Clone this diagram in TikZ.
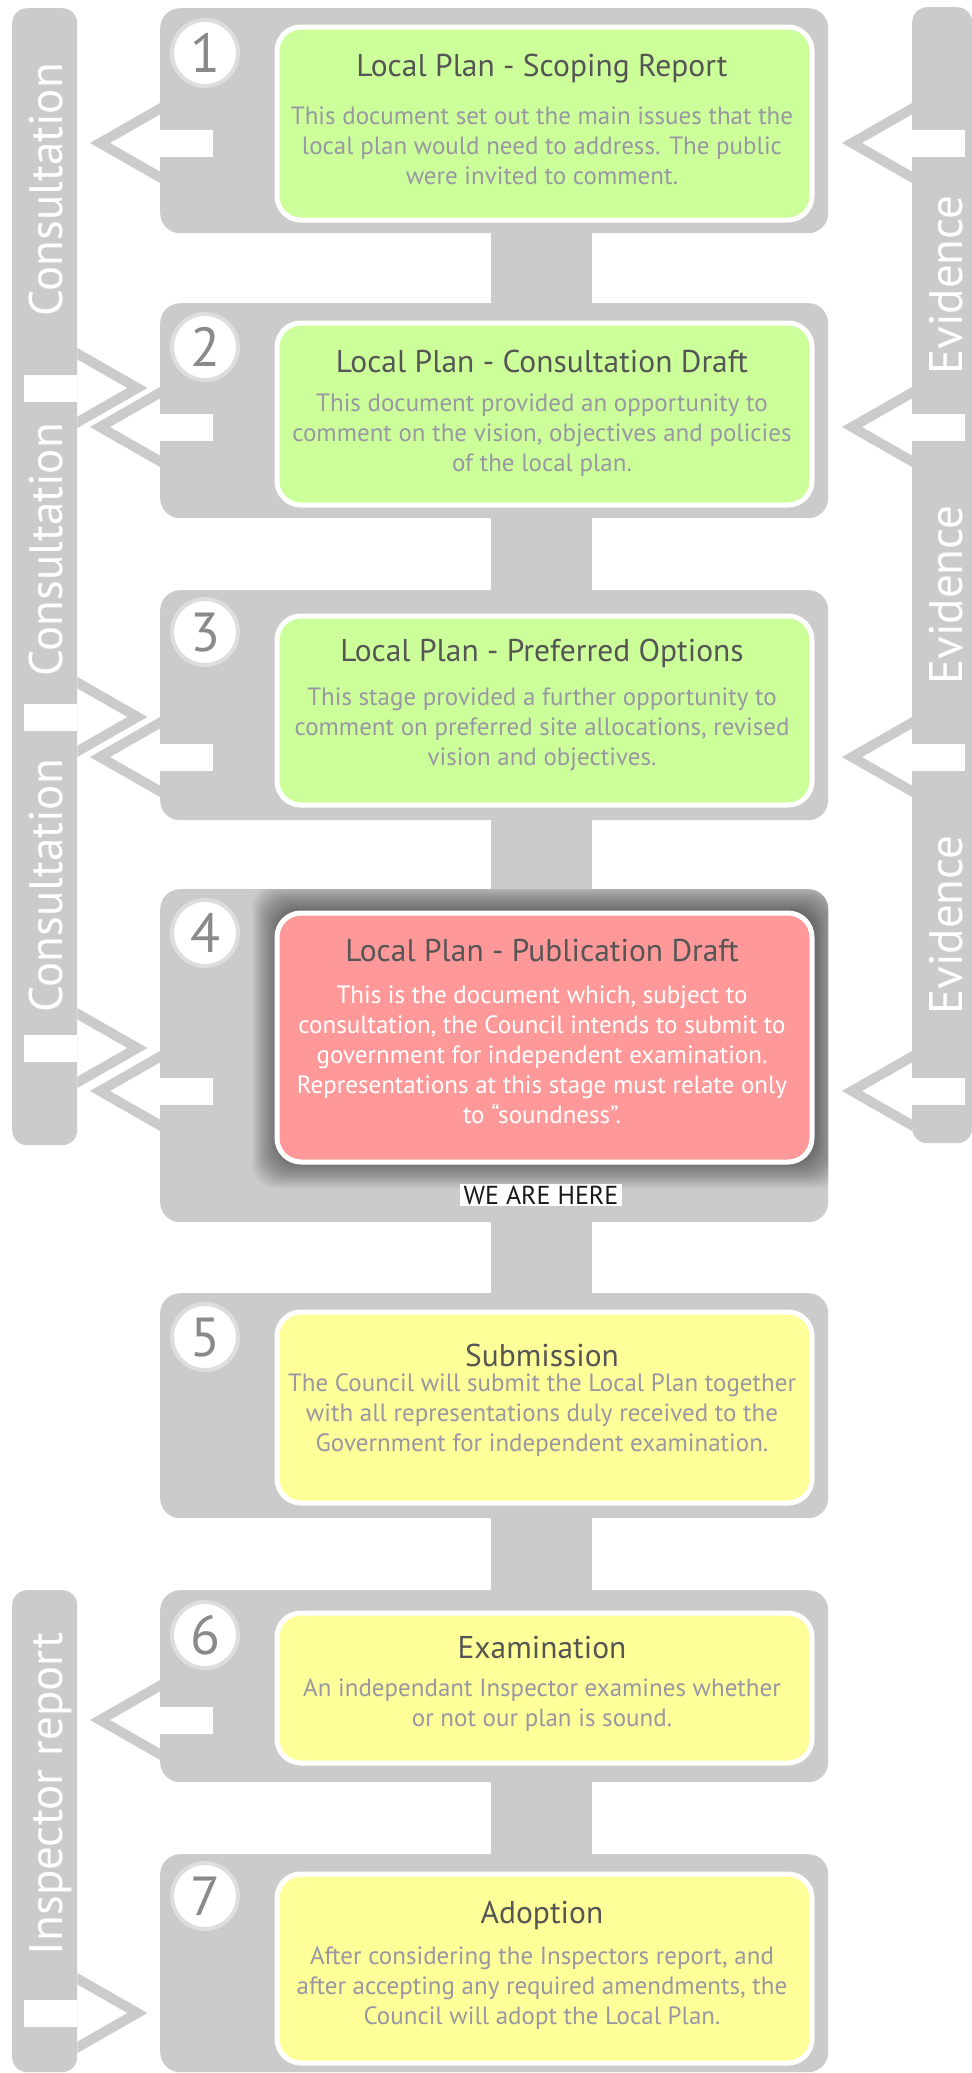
\documentclass[tikz,border=0pt]{standalone}
\usepackage{fontspec}
\setmainfont{PT Sans}
\usetikzlibrary{calc}
\definecolor{boxgray}{HTML}{CBCBCB}
\definecolor{ringgray}{HTML}{DDDDDD}
\definecolor{numgray}{HTML}{8A8A8A}
\definecolor{cgreen}{HTML}{CCFF99}
\definecolor{cyellow}{HTML}{FFFF99}
\definecolor{cpink}{HTML}{FF9999}
\definecolor{titlegray}{HTML}{555555}
\definecolor{bodygray}{HTML}{9897A3}
\begin{document}
\begin{tikzpicture}[x=1pt,y=-1pt,
  stage/.style={fill=boxgray, rounded corners=20pt, inner sep=0pt, minimum width=668pt, anchor=north west},
  card/.style={draw=white, line width=5pt, rounded corners=24pt, inner sep=0pt, minimum width=535pt, anchor=north west},
  numcircle/.style={circle, fill=white, draw=ringgray, line width=4pt, minimum size=66pt, inner sep=0pt},
  numtext/.style={anchor=base, text=numgray, inner sep=0pt, font=\fontsize{55}{60}\selectfont},
  titletext/.style={text=titlegray, inner sep=0pt, font=\fontsize{31.5}{34}\selectfont},
  bodytext/.style={text=bodygray, inner sep=0pt, align=center, font=\fontsize{25}{30}\selectfont},
  bar/.style={fill=boxgray, rounded corners=15pt, inner sep=0pt, anchor=north west},
  bartext/.style={text=white, rotate=90, anchor=base, inner sep=0pt, font=\fontsize{47}{50}\selectfont},
  chev/.pic={
    \fill[boxgray] (0,-40) -- (-70,0) -- (0,40) -- (0,28.6) -- (-50,0) -- (0,-28.6) -- cycle;
    \fill[white] (0,-13.5) rectangle (53,13.5);
  }
]
\useasboundingbox (0,0) rectangle (972,2073);
\fill[white] (0,0) rectangle (972,2073);

% stage boxes
\node[stage, minimum height=225pt] (s1) at (160,8) {};
\node[stage, minimum height=215pt] (s2) at (160,303) {};
\node[stage, minimum height=230pt] (s3) at (160,590) {};
\node[stage, minimum height=333pt] (s4) at (160,889) {};
\node[stage, minimum height=225pt] (s5) at (160,1293) {};
\node[stage, minimum height=192pt] (s6) at (160,1590) {};
\node[stage, minimum height=218pt] (s7) at (160,1854) {};

% stem joining the stages
\fill[boxgray] ($(s1.south west)+(331,-5)$) rectangle ($(s7.north west)+(432,5)$);

% shadow of the current stage
\begin{scope}
  \clip[rounded corners=20pt] (s4.north west) rectangle (s4.south east);
  \foreach \k in {1,...,28} {
    \fill[black, opacity=0.02, rounded corners=24pt]
      ($(274.5,910.5)+(5-\k,1-\k)$) rectangle ($(809.5,1159.5)+(5+\k,1+\k)$);
  }
\end{scope}

% cards
\node[card, fill=cgreen, minimum height=193pt] (c1) at (274.5,24.5) {};
\node[card, fill=cgreen, minimum height=182pt] (c2) at (274.5,320.5) {};
\node[card, fill=cgreen, minimum height=189pt] (c3) at (274.5,613.5) {};
\node[card, fill=cpink, minimum height=249pt] (c4) at (274.5,910.5) {};
\node[card, fill=cyellow, minimum height=191pt] (c5) at (274.5,1309.5) {};
\node[card, fill=cyellow, minimum height=150pt] (c6) at (274.5,1610.5) {};
\node[card, fill=cyellow, minimum height=189pt] (c7) at (274.5,1871.5) {};

% titles and texts
\node[titletext] (t1) at (542,69) {Local Plan - Scoping Report};
\node[bodytext] (b1) at (542,146) {This document set out the main issues that the\\local plan would need to address. The public\\were invited to comment.};
\node[titletext] (t2) at (542,361) {Local Plan - Consultation Draft};
\node[bodytext] (b2) at (542,435) {This document provided an opportunity to\\comment on the vision, objectives and policies\\of the local plan.};
\node[titletext] (t3) at (542,653) {Local Plan - Preferred Options};
\node[bodytext] (b3) at (542,729) {This stage provided a further opportunity to\\comment on preferred site allocations, revised\\vision and objectives.};
\node[titletext] (t4) at (542,951) {Local Plan - Publication Draft};
\node[bodytext, text=white] (b4) at (542,1055) {This is the document which, subject to\\consultation, the Council intends to submit to\\government for independent examination.\\Representations at this stage must relate only\\to “soundness”.};
\node[titletext] (t5) at (542,1355) {Submission};
\node[bodytext] (b5) at (542,1415) {The Council will submit the Local Plan together\\with all representations duly received to the\\Government for independent examination.};
\node[titletext] (t6) at (542,1648) {Examination};
\node[bodytext] (b6) at (542,1705) {An independant Inspector examines whether\\or not our plan is sound.};
\node[titletext] (t7) at (542,1915) {Adoption};
\node[bodytext] (b7) at (542,1988) {After considering the Inspectors report, and\\after accepting any required amendments, the\\Council will adopt the Local Plan.};

\node[fill=white, text=black!90, inner xsep=4pt, inner ysep=2pt, font=\fontsize{26}{30}\selectfont] (here) at (541,1195) {WE ARE HERE};

% number circles
\foreach \n/\cy in {1/53, 2/347, 3/632, 4/933, 5/1337, 6/1635, 7/1896} {
  \node[numcircle] (n\n) at (205,\cy) {};
  \node[numtext] (d\n) at ($(n\n.center)+(0,19)$) {\n};
}

% side bars
\node[bar, minimum width=65pt, minimum height=1137pt] (cbar) at (12,8) {};
\node[bar, minimum width=60pt, minimum height=1136pt] (ebar) at (912,7) {};
\node[bar, minimum width=65pt, minimum height=482pt] (ibar) at (12,1590) {};

% arrows out of the stages towards the consultation bar
\pic at ($(s1.north west)+(0,135)$) {chev};
\pic at ($(s2.north west)+(0,124)$) {chev};
\pic at ($(s3.north west)+(0,167)$) {chev};
\pic at ($(s4.north west)+(0,202)$) {chev};
\pic at ($(s6.north west)+(0,130)$) {chev};
% arrows from the bars into the stages
\pic[xscale=-1] at ($(cbar.north east)+(0,380)$) {chev};
\pic[xscale=-1] at ($(cbar.north east)+(0,709)$) {chev};
\pic[xscale=-1] at ($(cbar.north east)+(0,1040)$) {chev};
\pic[xscale=-1] at ($(ibar.north east)+(0,423)$) {chev};
% evidence arrows
\pic at ($(ebar.north west)+(0,136)$) {chev};
\pic at ($(ebar.north west)+(0,420)$) {chev};
\pic at ($(ebar.north west)+(0,750)$) {chev};
\pic at ($(ebar.north west)+(0,1084)$) {chev};

% bar labels
\node[bartext] (ct1) at (62,190) {Consultation};
\node[bartext] (ct2) at (62,550) {Consultation};
\node[bartext] (ct3) at (62,886) {Consultation};
\node[bartext] (et1) at (962,285) {Evidence};
\node[bartext] (et2) at (962,595) {Evidence};
\node[bartext] (et3) at (962,925) {Evidence};
\node[bartext] (it1) at (62,1794) {Inspector report};
\end{tikzpicture}
\end{document}
